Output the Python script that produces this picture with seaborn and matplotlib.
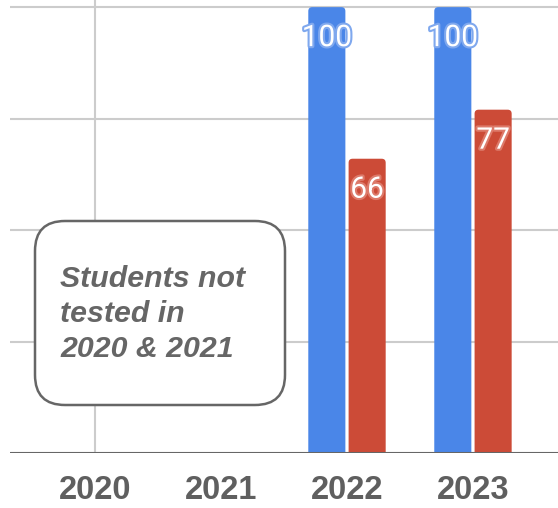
import matplotlib
matplotlib.use("Agg")
import matplotlib.pyplot as plt
import matplotlib.patheffects as pe
from matplotlib.patches import FancyBboxPatch
from matplotlib.transforms import IdentityTransform
import numpy as np
import pandas as pd
import seaborn as sns

# ---- data ----
years = ["2020", "2021", "2022", "2023"]
series_names = ["Series 1", "Series 2"]
series1_values = [np.nan, np.nan, 100, 100]
series2_values = [np.nan, np.nan, 66, 77]
note_text = "Students not\ntested in\n2020 & 2021"

colors = {"Series 1": "#4a86e8", "Series 2": "#cc4b37"}
halo = {"Series 1": "#7fa8ee", "Series 2": "#dd7a6a"}

df = pd.DataFrame({
    "year": years * 2,
    "series": [series_names[0]] * len(years) + [series_names[1]] * len(years),
    "value": series1_values + series2_values,
})

sns.set_theme(style="white")
plt.rcParams["font.family"] = ["Liberation Sans", "DejaVu Sans"]

W, H = 558, 508
fig = plt.figure(figsize=(W / 100, H / 100), dpi=100)
ax = fig.add_axes([10 / W, 55 / H, 548 / W, 453 / H])

plot_df = df.dropna()
sns.barplot(data=plot_df, x="year", y="value", hue="series", order=years,
            hue_order=series_names, palette=colors, width=0.64, gap=0.08,
            legend=False, ax=ax, zorder=3, saturation=1, linewidth=0)

XMIN, XMAX, YMAX = -0.675, 3.675, 101.6
ax.set_xlim(XMIN, XMAX)
ax.set_ylim(0, YMAX)
ax.set_yticks([0, 25, 50, 75, 100])
ax.yaxis.grid(True, color="#cccccc", linewidth=1.5, zorder=0)
ax.set_axisbelow(True)
ax.axvline(years.index("2020"), color="#cccccc", linewidth=1.5, zorder=1)
ax.axhline(0, color="#666666", linewidth=2.2, zorder=4)
for s in ax.spines.values():
    s.set_visible(False)
ax.set_ylabel("")
ax.set_xlabel("")
ax.tick_params(axis="y", left=False, labelleft=False)
ax.tick_params(axis="x", length=0, pad=16)
for lbl in ax.get_xticklabels():
    lbl.set_fontsize(23.5)
    lbl.set_fontweight("bold")
    lbl.set_color("#5f5f5f")

# rounded-top bars + value labels
aspect = (YMAX / 453) / ((XMAX - XMIN) / 548)
r = 4 / (548 / (XMAX - XMIN))
for container, name in zip(ax.containers, series_names):
    for bar in container:
        h = bar.get_height()
        if not np.isfinite(h) or h == 0:
            continue
        x0, w = bar.get_x(), bar.get_width()
        rb = FancyBboxPatch((x0, -2), w, h + 2,
                            boxstyle=f"round,pad=0,rounding_size={r}",
                            mutation_aspect=aspect, facecolor=bar.get_facecolor(),
                            edgecolor="none", zorder=3)
        bar.set_visible(False)
        ax.add_patch(rb)
        ax.annotate(f"{h:.0f}", (x0 + w / 2, h),
                    xytext=(0, -31), textcoords="offset pixels",
                    ha="center", va="center", fontsize=21.5, color="white",
                    family=["Roboto", "DejaVu Sans"], zorder=5,
                    path_effects=[pe.withStroke(linewidth=3, foreground=halo[name])])

# note box
box = FancyBboxPatch((35, H - 405), 250, 184,
                     boxstyle="round,pad=0,rounding_size=30",
                     transform=IdentityTransform(), facecolor="white",
                     edgecolor="#666666", linewidth=1.8, zorder=6)
fig.patches.append(box)
fig.text(60 / W, (H - 314) / H, note_text, ha="left", va="center",
         fontsize=21.8, fontweight="bold", fontstyle="italic", color="#666666",
         linespacing=1.32, zorder=7)

fig.savefig("out.png", dpi=100)
